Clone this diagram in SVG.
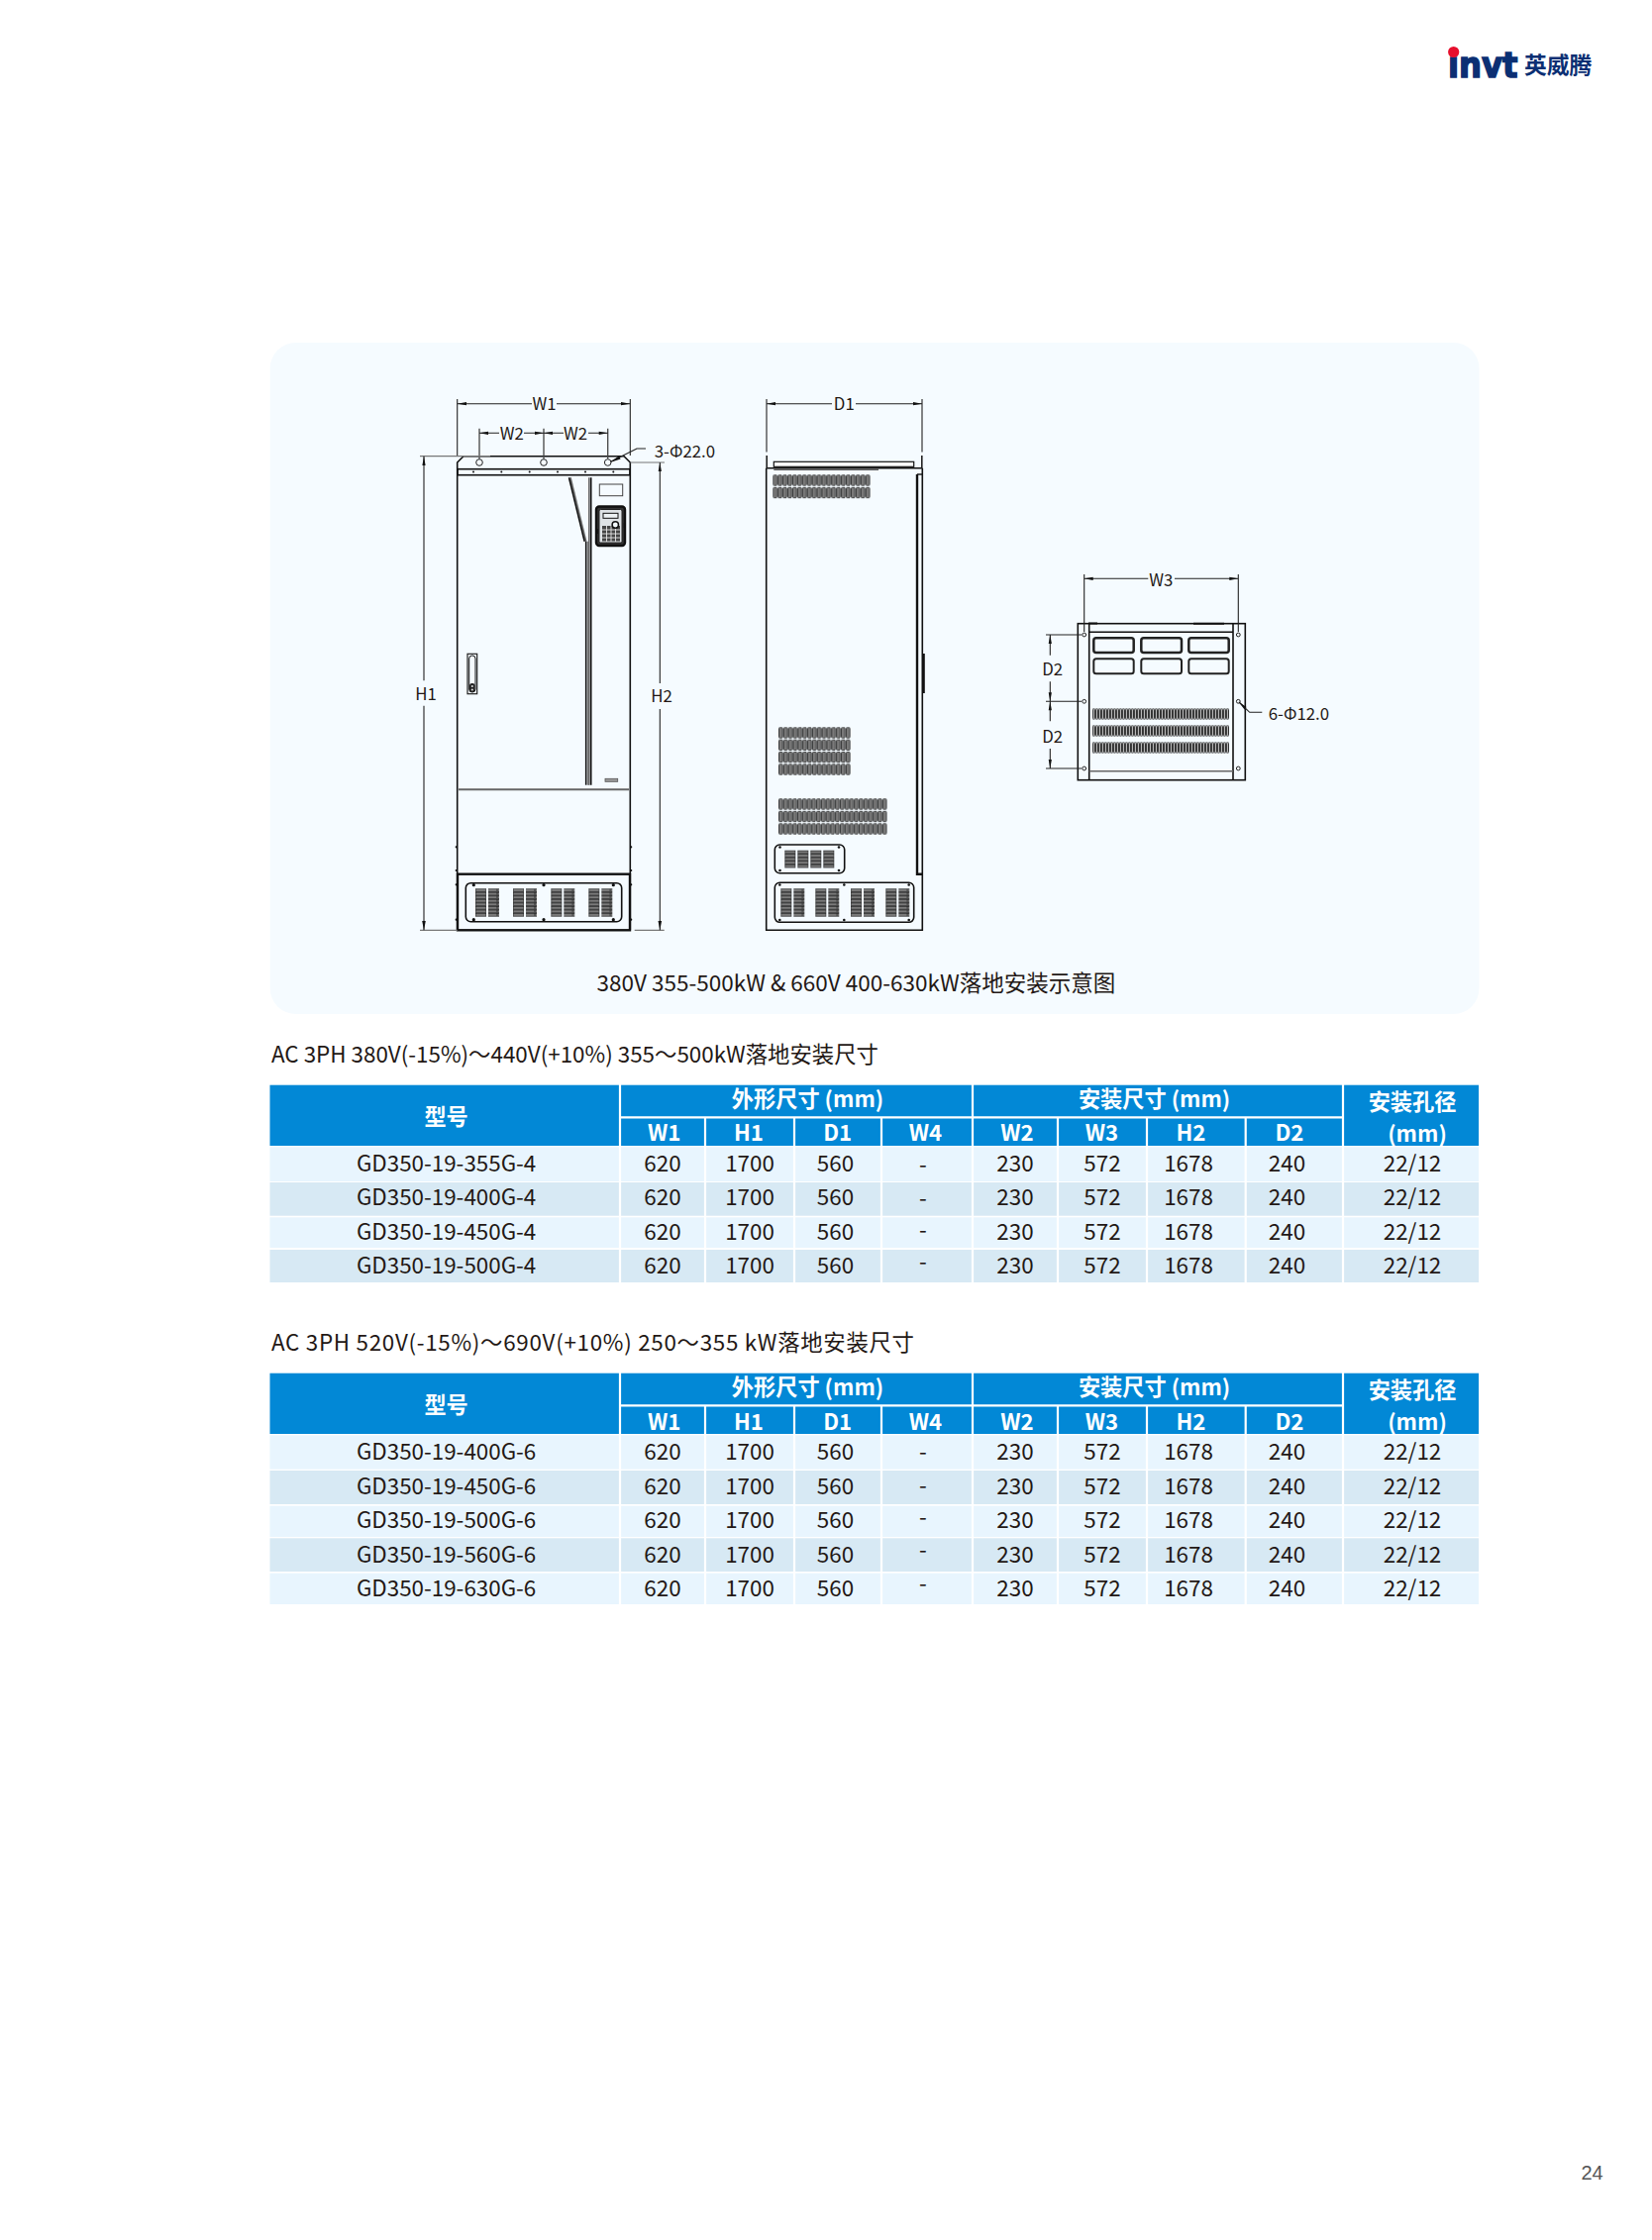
<svg xmlns="http://www.w3.org/2000/svg" xmlns:xlink="http://www.w3.org/1999/xlink" width="1668" height="2262" viewBox="0 0 1668 2262">
<style>
text{font-family:"Noto Sans CJK SC","Noto Sans",sans-serif;fill:#231815}
.t{font-size:22.4px}
.c{font-size:22.4px;text-anchor:middle}
.h{font-size:22.2px;font-weight:700;fill:#fff;text-anchor:middle}
.d{font-size:16.8px;text-anchor:middle}
.dl{font-size:16.8px}
.k{fill:none;stroke:#111;stroke-width:1.6}
.k2{fill:none;stroke:#111;stroke-width:2.4}
.g{fill:none;stroke:#666;stroke-width:1.6}
.dim{fill:none;stroke:#222;stroke-width:1.1}
.dot{fill:#111}
.hole{fill:none;stroke:#222;stroke-width:1}
.gap{stroke:#fff;stroke-width:2.2;fill:none}
</style>
<defs>
<pattern id="vs" width="4.85" height="11.4" patternUnits="userSpaceOnUse"><rect x="0.5" y="0.4" width="3.6" height="10.6" rx="1" fill="#7a7a7a" stroke="#222" stroke-width="0.8"/></pattern>
<pattern id="ts" width="3" height="11.4" patternUnits="userSpaceOnUse"><rect x="0.4" y="0.4" width="2.1" height="10.6" rx="1" fill="#b8b8b8" stroke="#222" stroke-width="0.9"/></pattern>
<pattern id="hb" width="11" height="3.55" patternUnits="userSpaceOnUse"><rect x="0.2" y="0.4" width="10.6" height="2.7" fill="#7a7a7a" stroke="#222" stroke-width="0.7"/></pattern>
<g id="louv"><rect width="11" height="28.4" fill="url(#hb)"/><rect x="13" width="11" height="28.4" fill="url(#hb)"/></g>
</defs>
<rect width="1668" height="2262" fill="#fff"/>

<g id="logo">
<text x="1462" y="77.7" textLength="70.5" lengthAdjust="spacingAndGlyphs" style="font-family:'DejaVu Sans',sans-serif;font-size:35px;font-weight:700;fill:#0b2f73;stroke:#0b2f73;stroke-width:1.5">invt</text>
<circle cx="1467.7" cy="52.5" r="5.6" fill="#e60f2d"/>
<text x="1539" y="74" style="font-size:22.8px;font-weight:700;fill:#0b2f73">英威腾</text>
</g>

<rect id="panel" x="272.7" y="346" width="1220.8" height="678" rx="26" fill="#f5fbff"/>

<g id="front-view">
<path class="k" d="M461.7,939.3V467L468,460.7H630L636.3,467V939.3"/>
<rect class="k" x="462" y="473.7" width="174" height="6"/>
<g class="dot"><circle cx="478" cy="476.5" r="1"/><circle cx="506.3" cy="476.5" r="1"/><circle cx="534.7" cy="476.5" r="1"/><circle cx="563" cy="476.5" r="1"/><circle cx="591" cy="476.5" r="1"/><circle cx="619.3" cy="476.5" r="1"/></g>
<g class="hole"><circle cx="484" cy="467" r="3.3"/><circle cx="549" cy="467" r="3.3"/><circle cx="613.7" cy="467" r="3.3"/></g>
<path class="g" d="M576,482.3L591.7,546.7"/>
<path class="k" d="M574.5,482.3L590.2,546.7"/>
<path class="k" d="M591.7,546.7V792.7"/>
<path class="g" d="M594,546.7V792.7"/>
<path class="k" d="M596.7,482.3V792.7"/>
<path class="g" d="M594.8,482.3V792.7"/>
<rect x="605.3" y="489" width="23.4" height="11.7" fill="none" stroke="#444" stroke-width="1"/>
<g id="keypad">
<rect x="602" y="511.5" width="29" height="39.5" rx="3" fill="#333" stroke="#111" stroke-width="2.4"/>
<rect x="605" y="514.5" width="23" height="33.5" rx="1.5" fill="#dfe3e6" stroke="#222" stroke-width="1"/>
<rect x="609" y="518.3" width="15" height="5" fill="#eef2f4" stroke="#111" stroke-width="1"/>
<rect x="608" y="531" width="18" height="15.5" fill="#444"/>
<path d="M608,535H626M608,539H626M608,543H626M612.5,531V547M617,531V547M621.5,531V547" stroke="#e6e6e6" stroke-width="0.9" fill="none"/>
<circle cx="621.3" cy="530" r="3.2" fill="#f5fbff" stroke="#111" stroke-width="1.5"/>
<path d="M603,534v5M630.5,528v5" stroke="#111" stroke-width="1.6"/>
</g>
<g id="handle">
<rect x="472" y="660.3" width="9.7" height="40.4" fill="none" stroke="#222" stroke-width="1.2"/>
<rect x="473.7" y="662" width="6.3" height="37" rx="3" fill="none" stroke="#111" stroke-width="1"/>
<rect x="474" y="690" width="5.6" height="9" rx="2.5" fill="#222"/><circle cx="476.8" cy="693" r="1.1" fill="#ddd"/><circle cx="476.8" cy="696.5" r="1.1" fill="#ddd"/>
</g>
<rect x="611" y="786.3" width="12.7" height="3" fill="#999" stroke="#555" stroke-width="0.8"/>
<path d="M463,797.3H635" stroke="#666" stroke-width="2" fill="none"/>
<g class="dot"><circle cx="460.7" cy="855.3" r="1.1"/><circle cx="460.7" cy="879" r="1.1"/><circle cx="460.7" cy="893.3" r="1.1"/><circle cx="460.7" cy="928.7" r="1.1"/><circle cx="637.2" cy="855.3" r="1.1"/><circle cx="637.2" cy="879" r="1.1"/><circle cx="637.2" cy="893.3" r="1.1"/><circle cx="637.2" cy="928.7" r="1.1"/></g>
<rect class="k2" x="462" y="882.7" width="174" height="56.6"/>
<rect class="k" x="470.3" y="891.7" width="157.4" height="39" rx="5"/>
<g class="dot"><circle cx="478.3" cy="893.7" r="1.6"/><circle cx="549" cy="893.7" r="1.6"/><circle cx="619.3" cy="893.7" r="1.6"/><circle cx="478.3" cy="928.7" r="1.6"/><circle cx="549" cy="928.7" r="1.6"/><circle cx="619.3" cy="928.7" r="1.6"/></g>
<use xlink:href="#louv" href="#louv" transform="translate(480,897.3)"/>
<use xlink:href="#louv" href="#louv" transform="translate(518,897.3)"/>
<use xlink:href="#louv" href="#louv" transform="translate(556.3,897.3)"/>
<use xlink:href="#louv" href="#louv" transform="translate(594.3,897.3)"/>
</g>

<g id="side-view">
<path class="k" d="M773.7,472.7V939.3H931.3V472.7"/>
<path class="k" d="M773.7,472.7H931.3"/>
<path d="M774.2,460V472.7M930.8,460V472.7" stroke="#222" stroke-width="1.6" fill="none"/>
<rect x="781.3" y="466.3" width="141.4" height="5" fill="#fff" stroke="#111" stroke-width="1.2"/>
<path d="M781.3,474.2H887" stroke="#555" stroke-width="1.4"/>
<path d="M926,479V882.7H931" stroke="#111" stroke-width="2.4" fill="none"/>
<path d="M926,479H931" stroke="#111" stroke-width="1.4"/>
<path d="M932.5,660V700" stroke="#111" stroke-width="2.6"/>
<rect transform="translate(780.3,479.3) scale(1.014,1)" width="97" height="11.4" fill="url(#vs)"/>
<rect transform="translate(780.3,491.8) scale(1.014,1)" width="97" height="11.4" fill="url(#vs)"/>
<rect transform="translate(786,734.3)" width="72.75" height="11.4" fill="url(#vs)"/>
<rect transform="translate(786,746.6)" width="72.75" height="11.4" fill="url(#vs)"/>
<rect transform="translate(786,758.9)" width="72.75" height="11.4" fill="url(#vs)"/>
<rect transform="translate(786,771.3)" width="72.75" height="11.4" fill="url(#vs)"/>
<rect transform="translate(786,806.3) scale(0.983,1)" width="111.55" height="11.4" fill="url(#vs)"/>
<rect transform="translate(786,818.8) scale(0.983,1)" width="111.55" height="11.4" fill="url(#vs)"/>
<rect transform="translate(786,831.3) scale(0.983,1)" width="111.55" height="11.4" fill="url(#vs)"/>
<rect class="k" x="782.3" y="853" width="70.4" height="28.7" rx="5"/>
<g class="dot"><circle cx="787.5" cy="855.5" r="1.3"/><circle cx="847" cy="855.5" r="1.3"/><circle cx="787.5" cy="879" r="1.3"/><circle cx="847" cy="879" r="1.3"/></g>
<g fill="url(#hb)"><rect transform="translate(792.3,858.7)" width="11" height="17.75"/><rect transform="translate(805.3,858.7)" width="11" height="17.75"/><rect transform="translate(818.3,858.7)" width="11" height="17.75"/><rect transform="translate(831.3,858.7)" width="11" height="17.75"/></g>
<rect class="k" x="782.3" y="891.3" width="140.4" height="40" rx="5"/>
<g class="dot"><circle cx="787.3" cy="893.5" r="1.3"/><circle cx="852.3" cy="893.5" r="1.3"/><circle cx="917.7" cy="893.5" r="1.3"/><circle cx="787.3" cy="929" r="1.3"/><circle cx="852.3" cy="929" r="1.3"/><circle cx="917.7" cy="929" r="1.3"/></g>
<use xlink:href="#louv" href="#louv" transform="translate(788.3,897.3)"/>
<use xlink:href="#louv" href="#louv" transform="translate(823.3,897.3)"/>
<use xlink:href="#louv" href="#louv" transform="translate(859,897.3)"/>
<use xlink:href="#louv" href="#louv" transform="translate(894.3,897.3)"/>
</g>

<g id="bottom-view">
<rect class="k" x="1088.3" y="629.7" width="169" height="158"/>
<path class="k" d="M1099.7,629.7V787.7M1245,629.7V787.7M1099.7,638.3H1245"/>
<path d="M1099.7,778.7H1245" stroke="#666" stroke-width="1.6"/>
<path d="M1099,629.5H1108M1205,629.7H1236" stroke="#111" stroke-width="2"/>
<g class="hole"><circle cx="1094.7" cy="641" r="1.9"/><circle cx="1094.7" cy="708.3" r="1.9"/><circle cx="1094.7" cy="776" r="1.9"/><circle cx="1250.3" cy="641" r="1.9"/><circle cx="1250.3" cy="708.3" r="1.9"/><circle cx="1250.3" cy="776" r="1.9"/></g>
<g fill="none" stroke="#222" stroke-width="2.5"><rect x="1104.3" y="644.3" width="40.4" height="14.7" rx="2.5"/><rect x="1152.3" y="644.3" width="40.7" height="14.7" rx="2.5"/><rect x="1200.3" y="644.3" width="40.4" height="14.7" rx="2.5"/></g>
<g fill="none" stroke="#222" stroke-width="2"><rect x="1104.3" y="665.3" width="40.4" height="15" rx="2.5"/><rect x="1152.3" y="665.3" width="40.7" height="15" rx="2.5"/><rect x="1200.3" y="665.3" width="40.4" height="15" rx="2.5"/></g>
<rect transform="translate(1103,715.3)" width="138" height="11.4" fill="url(#ts)"/>
<rect transform="translate(1103,732.3)" width="138" height="11.4" fill="url(#ts)"/>
<rect transform="translate(1103,749.3)" width="138" height="11.4" fill="url(#ts)"/>
</g>

<g id="connectors">
<path class="dim" d="M461.7,403V460M636.3,403V460"/>
<path class="dim" d="M461.7,407.7H537M562,407.7H636.3"/>
<path d="M461.7,407.7L471,406.1V409.3ZM636.3,407.7L627,406.1V409.3Z" fill="#111"/>
<path class="dim" d="M484,432.7V463.5M549,432.7V463.5M613.7,432.7V463.5" style="stroke:#444;stroke-width:1.3"/>
<path class="dim" d="M484,437.3H504M529,437.3H549M549,437.3H569M594,437.3H613.7"/>
<path d="M484,437.3L493,435.7V438.9ZM549,437.3L540,435.7V438.9ZM549,437.3L558,435.7V438.9ZM613.7,437.3L604.7,435.7V438.9Z" fill="#111"/>
<path d="M424,460.7H495M424,939.3H461.7M640.7,939.3H670.7M636.3,467H671" stroke="#777" stroke-width="1.2" fill="none"/>
<path class="dim" d="M428,460.7V687.3M428,712.7V939.3M666.3,467V690M666.3,716V939.3"/>
<path d="M428,460.7L426.4,470H429.6ZM428,939.3L426.2,930H429.8ZM666.3,467L664.7,476H667.9ZM666.3,939.3L664.5,930H668.1Z" fill="#111"/>
<path class="dim" d="M617,466L643,453H652"/>
<path d="M616,467L625,460.3L626.6,463.5Z" fill="#111"/>
<path class="dim" d="M774,403V456.5M931,403V456.5M774,407.7H840M864,407.7H931"/>
<path d="M774,407.7L783,406.1V409.3ZM931,407.7L922,406.1V409.3Z" fill="#111"/>
<path class="dim" d="M1094.7,580V638M1250.3,580V638M1094.7,584.3H1159.3M1186,584.3H1250.3"/>
<path d="M1094.7,584.3L1103.7,582.7V585.9ZM1250.3,584.3L1241.3,582.7V585.9Z" fill="#111"/>
<path class="dim" d="M1056,641H1092M1056,708.3H1092M1056,776H1092M1060.3,641V661.7M1060.3,688.3V728.3M1060.3,756V776"/>
<path d="M1060.3,641L1058.7,650H1061.9ZM1060.3,708.3L1058.7,699.3H1061.9ZM1060.3,708.3L1058.7,717.3H1061.9ZM1060.3,776L1058.7,767H1061.9Z" fill="#111"/>
<path class="dim" d="M1251,709L1261.7,719.3H1274.3"/>
<path d="M1250.5,708.5L1258.5,714L1256.5,716.5Z" fill="#111"/>
</g>

<g id="dim-labels">
<text class="d" x="549.5" y="413.5">W1</text>
<text class="d" x="516.7" y="444">W2</text>
<text class="d" x="581" y="444">W2</text>
<text class="dl" x="660.7" y="461.7">3-Φ22.0</text>
<text class="d" x="430" y="706.7">H1</text>
<text class="d" x="668" y="709">H2</text>
<text class="d" x="852.3" y="414">D1</text>
<text class="d" x="1172.3" y="591.5">W3</text>
<text class="d" x="1062.7" y="682">D2</text>
<text class="d" x="1062.7" y="750">D2</text>
<text class="dl" x="1280.7" y="726.7">6-Φ12.0</text>
</g>

<text id="caption" x="864.4" y="1001.4" text-anchor="middle" style="font-size:22.5px">380V 355-500kW &amp; 660V 400-630kW落地安装示意图</text>

<text id="title1" class="t" x="274" y="1073" textLength="613">AC 3PH 380V(-15%)～440V(+10%) 355～500kW落地安装尺寸</text>

<g id="table1">
<rect x="272.5" y="1095.7" width="1220.5" height="61.3" fill="#0288d6"/>
<path class="gap" d="M626,1095V1157M982,1095V1157M1356,1095V1157M627,1128.3H981M983,1128.3H1355M712,1129V1157M802,1129V1157M890,1129V1157M1068,1129V1157M1158,1129V1157M1257.7,1129V1157"/>
<text class="h" x="450.6" y="1136">型号</text>
<text class="h" x="815.5" y="1118">外形尺寸 (mm)</text>
<text class="h" x="1165.6" y="1118">安装尺寸 (mm)</text>
<text class="h" x="1426" y="1120.5">安装孔径</text>
<text class="h" x="1431" y="1153">(mm)</text>
<text class="h" x="670.7" y="1151.7">W1</text><text class="h" x="756" y="1151.7">H1</text><text class="h" x="845.7" y="1151.7">D1</text><text class="h" x="934.5" y="1151.7">W4</text><text class="h" x="1027" y="1151.7">W2</text><text class="h" x="1112.5" y="1151.7">W3</text><text class="h" x="1202.4" y="1151.7">H2</text><text class="h" x="1302" y="1151.7">D2</text>
<rect x="272.5" y="1158.3" width="1220.5" height="34.7" fill="#e8f5fe"/>
<rect x="272.5" y="1194" width="1220.5" height="33.7" fill="#d7e9f4"/>
<rect x="272.5" y="1229.3" width="1220.5" height="30.7" fill="#e8f5fe"/>
<rect x="272.5" y="1262" width="1220.5" height="33" fill="#d7e9f4"/>
<path class="gap" d="M626,1158V1295M712,1158V1295M802,1158V1295M890,1158V1295M982,1158V1295M1068,1158V1295M1158,1158V1295M1257.7,1158V1295M1356,1158V1295"/>
<g><text class="c" x="450.6" y="1183">GD350-19-355G-4</text><text class="c" x="669" y="1183">620</text><text class="c" x="757" y="1183">1700</text><text class="c" x="843.5" y="1183">560</text><text class="c" x="932" y="1184">-</text><text class="c" x="1025" y="1183">230</text><text class="c" x="1113" y="1183">572</text><text class="c" x="1200" y="1183">1678</text><text class="c" x="1299.5" y="1183">240</text><text class="c" x="1426" y="1183">22/12</text></g>
<g><text class="c" x="450.6" y="1217.2">GD350-19-400G-4</text><text class="c" x="669" y="1217.2">620</text><text class="c" x="757" y="1217.2">1700</text><text class="c" x="843.5" y="1217.2">560</text><text class="c" x="932" y="1218">-</text><text class="c" x="1025" y="1217.2">230</text><text class="c" x="1113" y="1217.2">572</text><text class="c" x="1200" y="1217.2">1678</text><text class="c" x="1299.5" y="1217.2">240</text><text class="c" x="1426" y="1217.2">22/12</text></g>
<g><text class="c" x="450.6" y="1251.7">GD350-19-450G-4</text><text class="c" x="669" y="1251.7">620</text><text class="c" x="757" y="1251.7">1700</text><text class="c" x="843.5" y="1251.7">560</text><text class="c" x="932" y="1249.5">-</text><text class="c" x="1025" y="1251.7">230</text><text class="c" x="1113" y="1251.7">572</text><text class="c" x="1200" y="1251.7">1678</text><text class="c" x="1299.5" y="1251.7">240</text><text class="c" x="1426" y="1251.7">22/12</text></g>
<g><text class="c" x="450.6" y="1286">GD350-19-500G-4</text><text class="c" x="669" y="1286">620</text><text class="c" x="757" y="1286">1700</text><text class="c" x="843.5" y="1286">560</text><text class="c" x="932" y="1281.7">-</text><text class="c" x="1025" y="1286">230</text><text class="c" x="1113" y="1286">572</text><text class="c" x="1200" y="1286">1678</text><text class="c" x="1299.5" y="1286">240</text><text class="c" x="1426" y="1286">22/12</text></g>
</g>

<text id="title2" class="t" x="274" y="1364.3" textLength="649">AC 3PH 520V(-15%)～690V(+10%) 250～355 kW落地安装尺寸</text>

<g id="table2">
<rect x="272.5" y="1386.7" width="1220.5" height="61.3" fill="#0288d6"/>
<path class="gap" d="M626,1386V1448M982,1386V1448M1356,1386V1448M627,1419.3H981M983,1419.3H1355M712,1420V1448M802,1420V1448M890,1420V1448M1068,1420V1448M1158,1420V1448M1257.7,1420V1448"/>
<text class="h" x="450.6" y="1427">型号</text>
<text class="h" x="815.5" y="1409">外形尺寸 (mm)</text>
<text class="h" x="1165.6" y="1409">安装尺寸 (mm)</text>
<text class="h" x="1426" y="1411.5">安装孔径</text>
<text class="h" x="1431" y="1444">(mm)</text>
<text class="h" x="670.7" y="1444">W1</text><text class="h" x="756" y="1444">H1</text><text class="h" x="845.7" y="1444">D1</text><text class="h" x="934.5" y="1444">W4</text><text class="h" x="1027" y="1444">W2</text><text class="h" x="1112.5" y="1444">W3</text><text class="h" x="1202.4" y="1444">H2</text><text class="h" x="1302" y="1444">D2</text>
<rect x="272.5" y="1449.3" width="1220.5" height="34.4" fill="#e8f5fe"/>
<rect x="272.5" y="1485" width="1220.5" height="34" fill="#d7e9f4"/>
<rect x="272.5" y="1520.7" width="1220.5" height="31.3" fill="#e8f5fe"/>
<rect x="272.5" y="1553.3" width="1220.5" height="33.7" fill="#d7e9f4"/>
<rect x="272.5" y="1588.7" width="1220.5" height="31.3" fill="#e8f5fe"/>
<path class="gap" d="M626,1449V1620M712,1449V1620M802,1449V1620M890,1449V1620M982,1449V1620M1068,1449V1620M1158,1449V1620M1257.7,1449V1620M1356,1449V1620"/>
<g><text class="c" x="450.6" y="1474">GD350-19-400G-6</text><text class="c" x="669" y="1474">620</text><text class="c" x="757" y="1474">1700</text><text class="c" x="843.5" y="1474">560</text><text class="c" x="932" y="1473.5">-</text><text class="c" x="1025" y="1474">230</text><text class="c" x="1113" y="1474">572</text><text class="c" x="1200" y="1474">1678</text><text class="c" x="1299.5" y="1474">240</text><text class="c" x="1426" y="1474">22/12</text></g>
<g><text class="c" x="450.6" y="1508.5">GD350-19-450G-6</text><text class="c" x="669" y="1508.5">620</text><text class="c" x="757" y="1508.5">1700</text><text class="c" x="843.5" y="1508.5">560</text><text class="c" x="932" y="1507.5">-</text><text class="c" x="1025" y="1508.5">230</text><text class="c" x="1113" y="1508.5">572</text><text class="c" x="1200" y="1508.5">1678</text><text class="c" x="1299.5" y="1508.5">240</text><text class="c" x="1426" y="1508.5">22/12</text></g>
<g><text class="c" x="450.6" y="1543">GD350-19-500G-6</text><text class="c" x="669" y="1543">620</text><text class="c" x="757" y="1543">1700</text><text class="c" x="843.5" y="1543">560</text><text class="c" x="932" y="1540">-</text><text class="c" x="1025" y="1543">230</text><text class="c" x="1113" y="1543">572</text><text class="c" x="1200" y="1543">1678</text><text class="c" x="1299.5" y="1543">240</text><text class="c" x="1426" y="1543">22/12</text></g>
<g><text class="c" x="450.6" y="1578">GD350-19-560G-6</text><text class="c" x="669" y="1578">620</text><text class="c" x="757" y="1578">1700</text><text class="c" x="843.5" y="1578">560</text><text class="c" x="932" y="1573.3">-</text><text class="c" x="1025" y="1578">230</text><text class="c" x="1113" y="1578">572</text><text class="c" x="1200" y="1578">1678</text><text class="c" x="1299.5" y="1578">240</text><text class="c" x="1426" y="1578">22/12</text></g>
<g><text class="c" x="450.6" y="1612">GD350-19-630G-6</text><text class="c" x="669" y="1612">620</text><text class="c" x="757" y="1612">1700</text><text class="c" x="843.5" y="1612">560</text><text class="c" x="932" y="1607.3">-</text><text class="c" x="1025" y="1612">230</text><text class="c" x="1113" y="1612">572</text><text class="c" x="1200" y="1612">1678</text><text class="c" x="1299.5" y="1612">240</text><text class="c" x="1426" y="1612">22/12</text></g>
</g>

<text id="page-number" x="1596.5" y="2201" style="font-family:'Liberation Sans',sans-serif;font-size:20px;fill:#555">24</text>
</svg>
